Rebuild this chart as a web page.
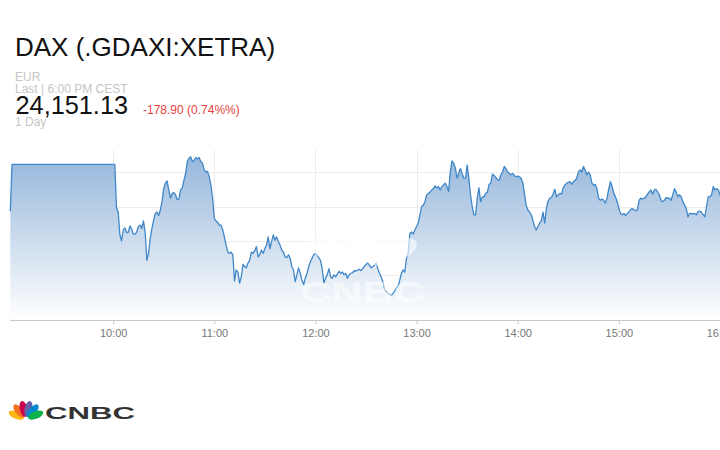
<!DOCTYPE html>
<html>
<head>
<meta charset="utf-8">
<script src="https://cdn.jsdelivr.net/npm/d3@7"></script>
<style>
  body { margin: 0; background: #fff; }
  svg { display: block; font-family: Arial, "Liberation Sans", sans-serif; }
</style>
</head>
<body>
<div id="chart"></div>
<script>
// 1 day of DAX, one point per minute
const times = [
  "08:59","09:00","10:01","10:02","10:03","10:04","10:05","10:06","10:07","10:08","10:09",
  "10:10","10:11","10:12","10:13","10:14","10:15","10:16","10:17","10:18","10:19",
  "10:20","10:21","10:22","10:23","10:24","10:25","10:26","10:27","10:28","10:29",
  "10:30","10:31","10:32","10:33","10:34","10:35","10:36","10:37","10:38","10:39",
  "10:40","10:41","10:42","10:43","10:44","10:45","10:46","10:47","10:48","10:49",
  "10:50","10:51","10:52","10:53","10:54","10:55","10:56","10:57","10:58","10:59",
  "11:00","11:01","11:02","11:03","11:04","11:05","11:06","11:07","11:08","11:09",
  "11:10","11:11","11:12","11:13","11:14","11:15","11:16","11:17","11:18","11:19",
  "11:20","11:21","11:22","11:23","11:24","11:25","11:26","11:27","11:28","11:29",
  "11:30","11:31","11:32","11:33","11:34","11:35","11:36","11:37","11:38","11:39",
  "11:40","11:41","11:42","11:43","11:44","11:45","11:46","11:47","11:48","11:49",
  "11:50","11:51","11:52","11:53","11:54","11:55","11:56","11:57","11:58","11:59",
  "12:00","12:01","12:02","12:03","12:04","12:05","12:06","12:07","12:08","12:09",
  "12:10","12:11","12:12","12:14","12:15","12:16","12:17","12:18","12:19",
  "12:20","12:21","12:22","12:23","12:24","12:25","12:26","12:27","12:28","12:29",
  "12:30","12:31","12:32","12:33","12:34","12:35","12:36","12:37","12:38","12:39",
  "12:40","12:41","12:42","12:43","12:44","12:45","12:46","12:47","12:48","12:49",
  "12:50","12:51","12:52","12:53","12:54","12:55","12:56","12:57","12:58","12:59",
  "13:00","13:01","13:02","13:03","13:04","13:05","13:06","13:07","13:08","13:09",
  "13:10","13:11","13:12","13:13","13:14","13:15","13:16","13:17","13:18","13:19",
  "13:20","13:21","13:22","13:23","13:24","13:26","13:27","13:28","13:29",
  "13:30","13:31","13:32","13:33","13:34","13:35","13:36","13:37","13:38","13:39",
  "13:40","13:41","13:42","13:43","13:44","13:45","13:46","13:47","13:48","13:49",
  "13:50","13:51","13:52","13:53","13:54","13:55","13:56","13:57","13:58","13:59",
  "14:00","14:01","14:02","14:03","14:04","14:05","14:06","14:07","14:08","14:09",
  "14:10","14:11","14:12","14:13","14:14","14:15","14:16","14:17","14:18","14:19",
  "14:20","14:21","14:22","14:23","14:24","14:25","14:26","14:27","14:28","14:29",
  "14:30","14:31","14:32","14:33","14:34","14:35","14:36","14:37","14:38","14:39",
  "14:40","14:41","14:42","14:43","14:44","14:45","14:46","14:47","14:48","14:49",
  "14:50","14:51","14:52","14:53","14:54","14:55","14:56","14:57","14:58","14:59",
  "15:00","15:01","15:02","15:03","15:04","15:05","15:06","15:07","15:08","15:09",
  "15:10","15:11","15:12","15:13","15:14","15:15","15:16","15:17","15:18","15:19",
  "15:20","15:21","15:22","15:23","15:24","15:25","15:26","15:27","15:28","15:29",
  "15:30","15:31","15:32","15:33","15:34","15:35","15:36","15:37","15:38","15:39",
  "15:40","15:41","15:42","15:43","15:44","15:45","15:46","15:47","15:48","15:49",
  "15:50","15:51","15:52","15:53","15:54","15:55","15:56","15:57","15:58","15:59",
  "16:00","16:01"
];

const prices = [
  24343,24411,24411,24348,24342,24309,24300,24316,24319,24312,24313,
  24322,24317,24310,24310,24313,24321,24323,24318,24329,24313,
  24272,24282,24304,24318,24330,24340,24342,24337,24345,24357,
  24376,24384,24387,24374,24362,24369,24370,24367,24360,24361,
  24374,24377,24388,24398,24415,24420,24422,24415,24417,24421,
  24419,24421,24415,24413,24403,24400,24401,24393,24381,24362,
  24333,24329,24327,24323,24323,24316,24306,24294,24284,24282,
  24284,24280,24242,24258,24255,24239,24248,24266,24263,24261,
  24268,24272,24284,24282,24286,24292,24277,24280,24287,24282,
  24289,24294,24306,24289,24299,24309,24301,24306,24299,24294,
  24287,24284,24277,24276,24280,24275,24263,24258,24241,24251,
  24261,24253,24243,24237,24246,24253,24263,24270,24275,24280,
  24282,24280,24276,24272,24260,24239,24246,24251,24260,24248,
  24246,24251,24248,24256,24253,24255,24251,24253,24246,
  24251,24253,24254,24257,24256,24258,24259,24257,24260,24263,
  24266,24268,24265,24261,24263,24265,24268,24260,24253,24248,
  24241,24230,24227,24224,24223,24221,24224,24227,24232,24234,
  24243,24253,24258,24255,24275,24282,24311,24313,24310,24316,
  24321,24326,24338,24350,24352,24357,24367,24369,24371,24374,
  24376,24380,24377,24379,24374,24379,24381,24384,24379,24372,
  24400,24416,24413,24406,24391,24405,24398,24391,24391,
  24410,24391,24367,24350,24338,24338,24362,24377,24357,24364,
  24364,24369,24371,24382,24384,24397,24395,24392,24389,24388,
  24396,24400,24408,24405,24400,24398,24396,24398,24395,24393,
  24394,24393,24391,24384,24369,24352,24345,24342,24338,24330,
  24321,24316,24321,24326,24330,24342,24326,24347,24358,24362,
  24363,24368,24375,24364,24367,24369,24368,24377,24381,24384,
  24385,24386,24382,24386,24388,24391,24400,24403,24400,24408,
  24403,24396,24400,24396,24384,24381,24382,24376,24362,24359,
  24361,24359,24355,24362,24376,24386,24379,24369,24364,24357,
  24347,24340,24338,24340,24337,24340,24342,24346,24347,24345,
  24344,24345,24359,24362,24361,24362,24364,24368,24371,24374,
  24368,24374,24375,24371,24367,24359,24357,24359,24363,24362,
  24362,24359,24367,24376,24371,24364,24367,24364,24357,24352,
  24347,24335,24340,24340,24339,24340,24338,24343,24343,24342,
  24338,24335,24350,24364,24364,24367,24379,24374,24376,24374,
  24367,24362
];

const hourTicks = ["10:00", "11:00", "12:00", "13:00", "14:00", "15:00", "16:00"];
const gridValues = [24200, 24250, 24300, 24350, 24400];

const quote = {
  title: "DAX (.GDAXI:XETRA)",
  currency: "EUR",
  lastTime: "Last | 6:00 PM CEST",
  last: "24,151.13",
  change: "-178.90 (0.74%%)",
  range: "1 Day"
};

const width = 720;
const height = 450;
const plotLeft = 10;
const plotTop = 150;
const plotBottom = 320;

const parseTime = d3.timeParse("%H:%M");
const data = times.map((t, i) => ({ date: parseTime(t), value: prices[i] }));

const svg = d3
  .select("#chart")
  .append("svg")
  .attr("width", width)
  .attr("height", height);

const x = d3
  .scaleTime()
  .domain([parseTime("09:00"), parseTime("16:00")])
  .range([12, 720]);

const y = d3
  .scaleLinear()
  .domain([24185.5, 24431.9])
  .range([plotBottom, plotTop]);

// gradient for the area
const grad = svg
  .append("defs")
  .append("linearGradient")
  .attr("id", "fillGrad")
  .attr("gradientUnits", "userSpaceOnUse")
  .attr("x1", 0)
  .attr("y1", plotTop)
  .attr("x2", 0)
  .attr("y2", plotBottom);
grad.append("stop").attr("offset", "0%").attr("stop-color", "#92b4da");
grad.append("stop").attr("offset", "100%").attr("stop-color", "#ffffff");

// grid
const grid = svg.append("g").attr("stroke", "#ececec").attr("stroke-width", 1);
grid
  .selectAll("line.h")
  .data(gridValues)
  .join("line")
  .attr("class", "h")
  .attr("x1", plotLeft)
  .attr("x2", width)
  .attr("y1", d => Math.round(y(d)) + 0.5)
  .attr("y2", d => Math.round(y(d)) + 0.5);
grid
  .selectAll("line.v")
  .data(hourTicks.map(parseTime))
  .join("line")
  .attr("class", "v")
  .attr("x1", d => Math.round(x(d)) + 0.5)
  .attr("x2", d => Math.round(x(d)) + 0.5)
  .attr("y1", plotTop)
  .attr("y2", plotBottom);

// area + line
const area = d3
  .area()
  .x(d => x(d.date))
  .y0(plotBottom)
  .y1(d => y(d.value));

const line = d3
  .line()
  .x(d => x(d.date))
  .y(d => y(d.value));

svg.append("path").datum(data).attr("d", area).attr("fill", "url(#fillGrad)");
svg
  .append("path")
  .datum(data)
  .attr("d", line)
  .attr("fill", "none")
  .attr("stroke", "#3f87c8")
  .attr("stroke-width", 1.3)
  .attr("stroke-linejoin", "round");

// x axis
const xAxis = d3
  .axisBottom(x)
  .tickValues(hourTicks.map(parseTime))
  .tickFormat(d3.timeFormat("%H:%M"))
  .tickSize(4)
  .tickSizeOuter(0);

const axisG = svg
  .append("g")
  .attr("transform", `translate(0,${plotBottom})`)
  .call(xAxis);
axisG.select(".domain").remove();
axisG
  .append("line")
  .attr("x1", plotLeft)
  .attr("x2", width)
  .attr("y1", 0.5)
  .attr("y2", 0.5)
  .attr("stroke", "#c8c8c8");
axisG.selectAll(".tick line").attr("stroke", "#c8c8c8");
axisG
  .selectAll(".tick text")
  .attr("fill", "#777")
  .attr("font-size", 11)
  .attr("font-family", "Arial, 'Liberation Sans', sans-serif")
  .attr("dy", "0.95em");

// peacock helper
function peacock(g, cx, cy, len, w, colors, opacity) {
  const angles = [-68, -40, -13, 13, 40, 68];
  angles.forEach((a, i) => {
    g.append("ellipse")
      .attr("cx", cx)
      .attr("cy", cy - len * 0.58)
      .attr("rx", w)
      .attr("ry", len * 0.45)
      .attr("transform", `rotate(${a},${cx},${cy})`)
      .attr("fill", colors[i])
      .attr("opacity", opacity);
  });
}

// watermark
const wm = svg.append("g");
peacock(wm, 363, 264, 56, 11, d3.range(6).map(() => "#fff"), 0.6);
wm.append("text")
  .attr("x", 300)
  .attr("y", 302)
  .attr("font-size", 30)
  .attr("font-weight", 900)
  .attr("fill", "#fff")
  .attr("opacity", 0.55)
  .attr("textLength", 125)
  .attr("lengthAdjust", "spacingAndGlyphs")
  .text("CNBC");

// header texts
svg.append("text")
  .attr("x", 15)
  .attr("y", 56)
  .attr("font-size", 26)
  .attr("fill", "#111")
  .text(quote.title);

svg.append("text")
  .attr("x", 15)
  .attr("y", 80.5)
  .attr("font-size", 12)
  .attr("fill", "#c6c6c6")
  .text(quote.currency);

svg.append("text")
  .attr("x", 15)
  .attr("y", 92.5)
  .attr("font-size", 12)
  .attr("fill", "#c6c6c6")
  .text(quote.lastTime);

svg.append("text")
  .attr("x", 15)
  .attr("y", 126)
  .attr("font-size", 12)
  .attr("fill", "#c6c6c6")
  .text(quote.range);

svg.append("text")
  .attr("x", 15.5)
  .attr("y", 114)
  .attr("font-size", 25.3)
  .attr("fill", "#111")
  .text(quote.last);

svg.append("text")
  .attr("x", 143)
  .attr("y", 114)
  .attr("font-size", 12)
  .attr("fill", "#e8413b")
  .text(quote.change);

// CNBC logo
const logo = svg.append("g");
peacock(logo, 26, 419, 18, 3.8,
  ["#fcb711", "#f37021", "#cc004c", "#6460aa", "#0089d0", "#0db14b"], 1);
logo.append("text")
  .attr("x", 45)
  .attr("y", 418.5)
  .attr("font-size", 17)
  .attr("font-weight", 900)
  .attr("fill", "#333")
  .attr("textLength", 90)
  .attr("lengthAdjust", "spacingAndGlyphs")
  .text("CNBC");
</script>
</body>
</html>
